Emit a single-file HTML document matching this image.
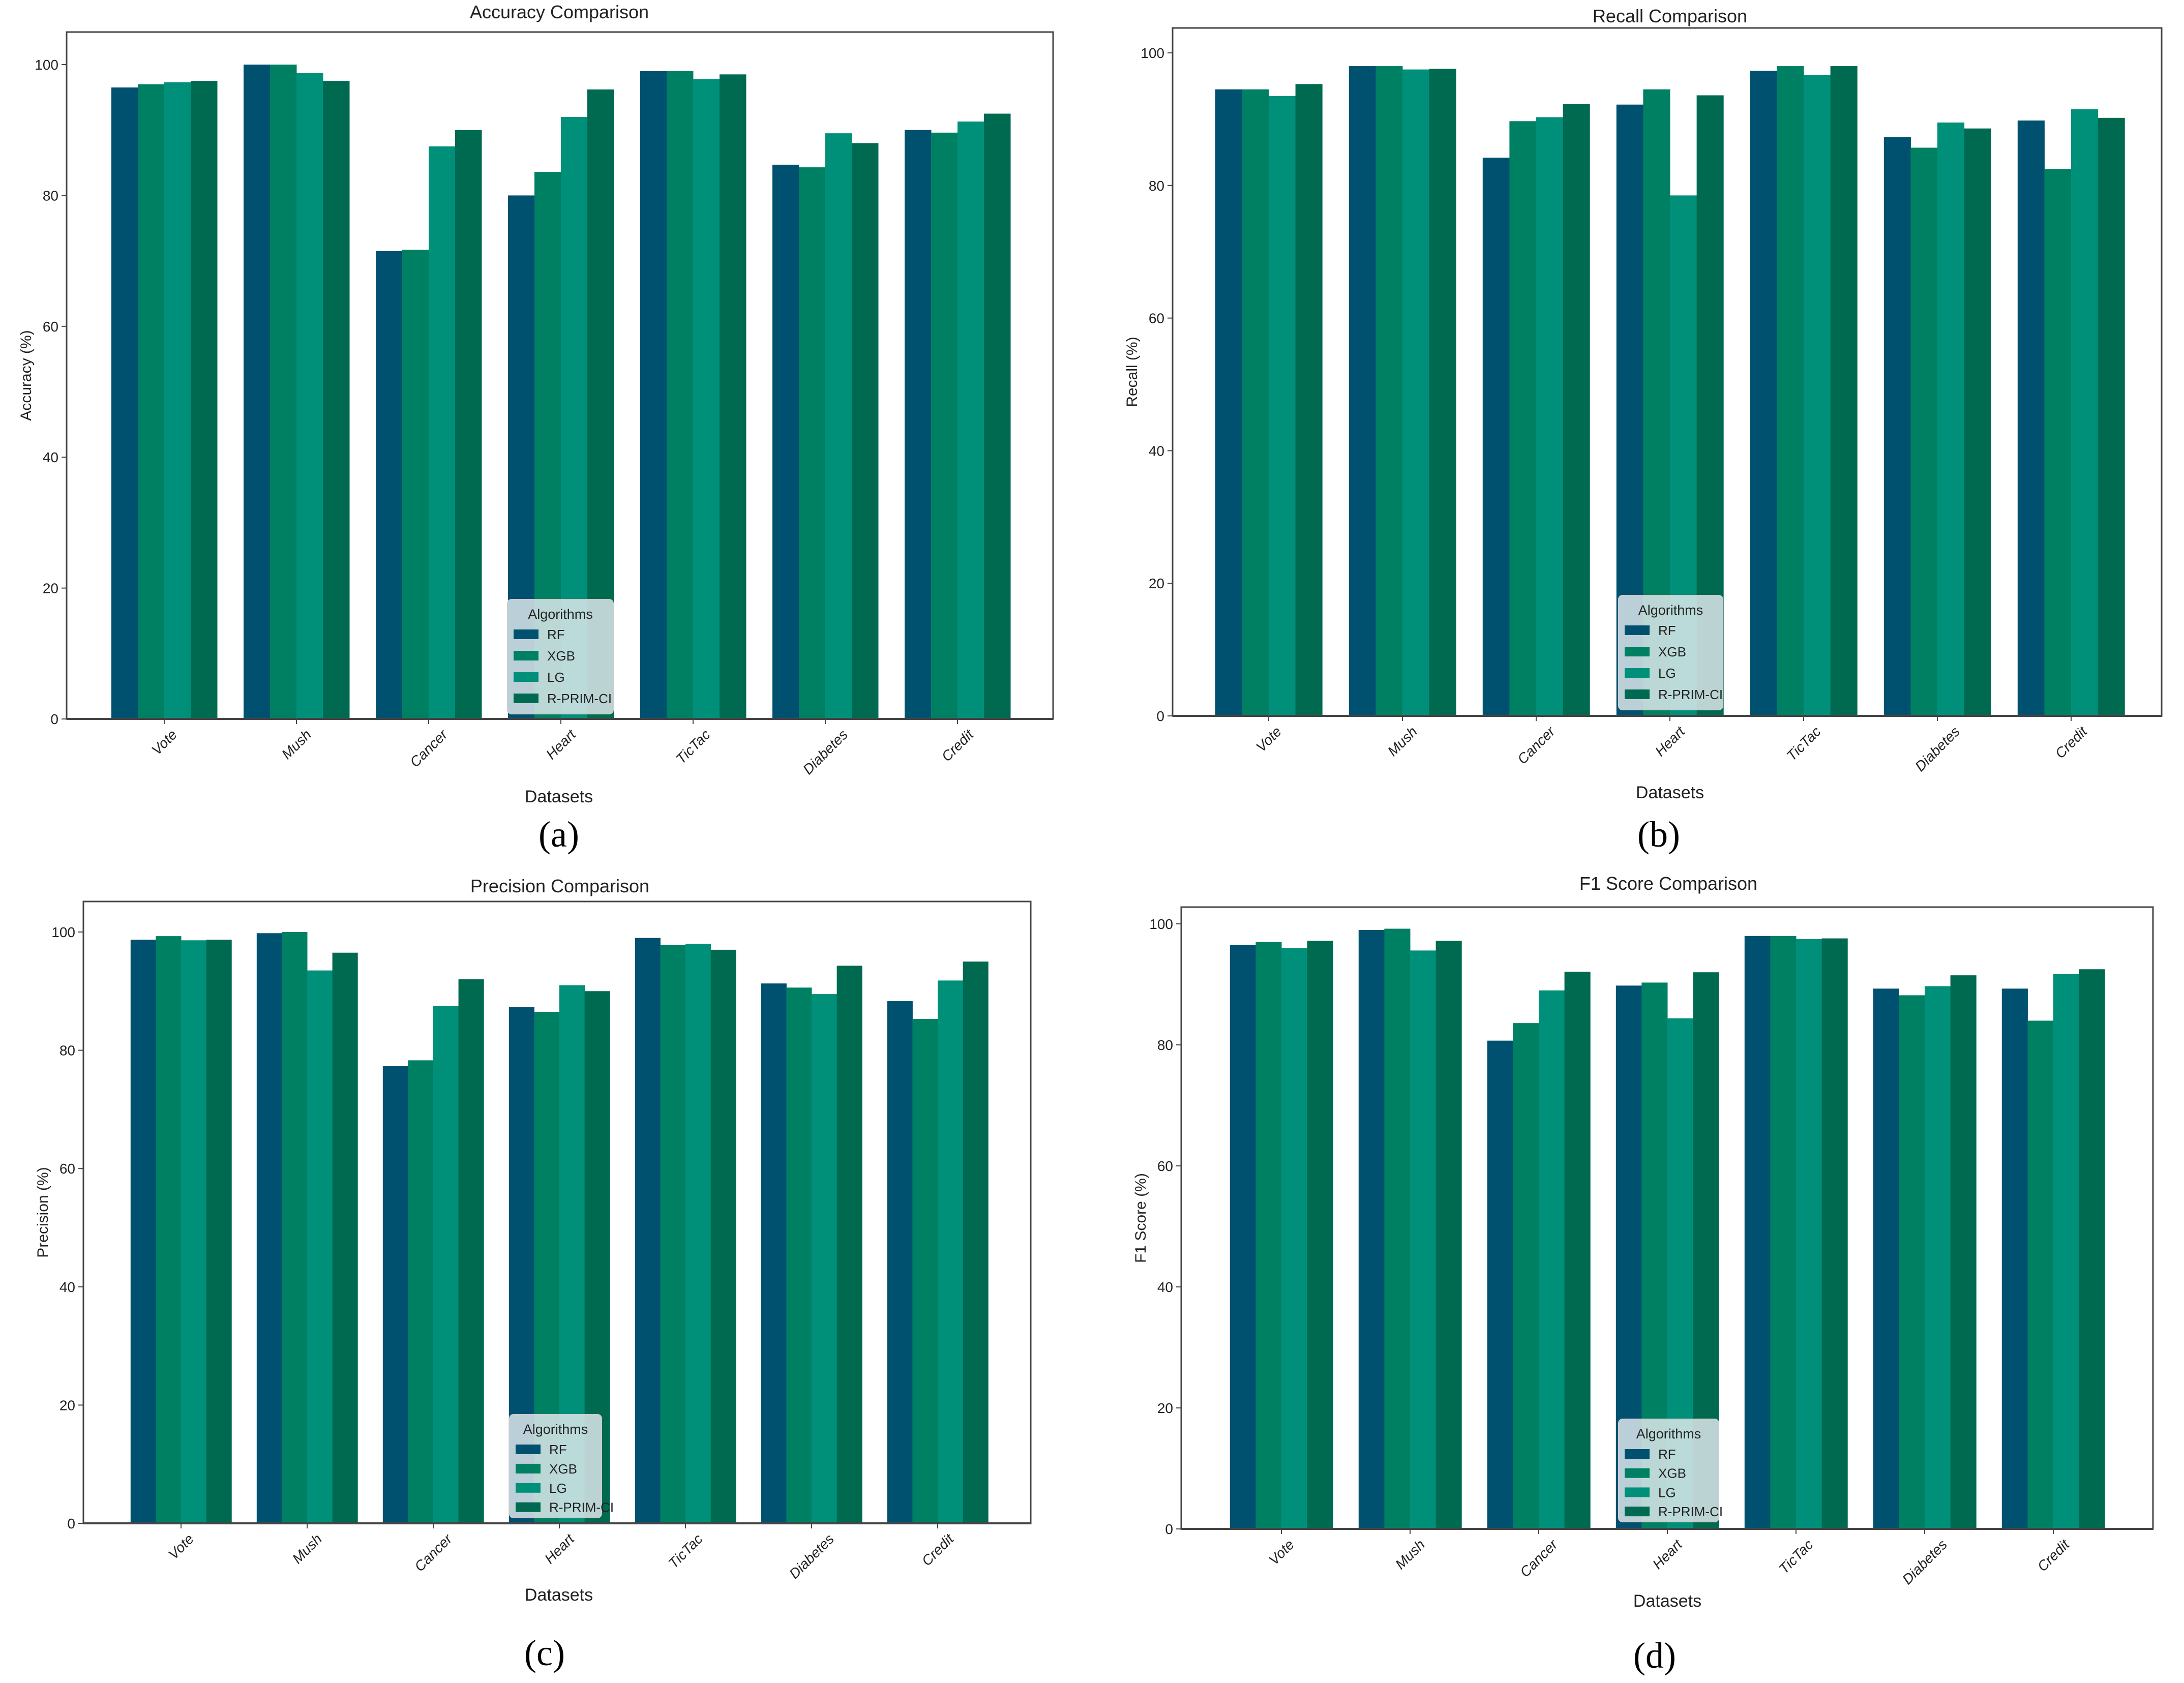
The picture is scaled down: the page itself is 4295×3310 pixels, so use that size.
<!DOCTYPE html>
<html><head><meta charset="utf-8"><style>
html,body{margin:0;padding:0;background:#fff;}
svg{display:block;}
text{font-family:"Liberation Sans Narrow","Liberation Sans",sans-serif;fill:#222;}
.lab{font-family:"Liberation Serif",serif;fill:#000;}
</style></head><body>
<svg id="fig" width="4295" height="3310" viewBox="0 0 4295 3310" xmlns="http://www.w3.org/2000/svg"></svg>
<script>
const categories = ["Vote","Mush","Cancer","Heart","TicTac","Diabetes","Credit"];
const seriesNames = ["RF","XGB","LG","R-PRIM-CI"];
const yTicks = [0,20,40,60,80,100];
const accRF  = [96.5,100,71.5,80,99,84.7,90];
const accXGB = [97,100,71.7,83.6,99,84.3,89.6];
const accLG  = [97.3,98.7,87.5,92,97.8,89.5,91.3];
const accR   = [97.5,97.5,90,96.2,98.5,88,92.5];
const recRF  = [94.5,98,84.2,92.2,97.3,87.3,89.8];
const recXGB = [94.5,98,89.7,94.5,98,85.7,82.5];
const recLG  = [93.5,97.5,90.3,78.5,96.7,89.5,91.5];
const recR   = [95.3,97.6,92.3,93.6,98,88.6,90.2];
const preRF  = [98.7,99.8,77.3,87.3,99,91.3,88.3];
const preXGB = [99.3,100,78.3,86.5,97.8,90.6,85.3];
const preLG  = [98.6,93.5,87.5,91,98,89.5,91.8];
const preR   = [98.7,96.5,92,90,97,94.3,95];
const f1RF   = [96.5,99,80.7,89.8,98,89.3,89.3];
const f1XGB  = [97,99.2,83.6,90.3,98,88.2,84];
const f1LG   = [96,95.6,89,84.4,97.5,89.7,91.7];
const f1R    = [97.2,97.2,92.1,92,97.6,91.5,92.5];

const colors = ["#00506f","#008062","#00907a","#006a50"];
const NS="http://www.w3.org/2000/svg";
const svg=document.getElementById('fig');
function mk(tag,attrs,parent,txt){const e=document.createElementNS(NS,tag);for(const k in attrs)e.setAttribute(k,attrs[k]);if(txt!==undefined)e.textContent=txt;(parent||svg).appendChild(e);return e;}

const panels=[
 {key:"accuracy",title:"Accuracy Comparison",ylab:"Accuracy (%)",data:[accRF,accXGB,accLG,accR],L:131,R:2071,T:63,B:1414,y100:127,c0:323,sp:260,leg:[998,1179,208,225],tx:1100,ty:36,dx:1099,dy:1578,lab:"(a)",lx:1099,ly:1665},
 {key:"recall",title:"Recall Comparison",ylab:"Recall (%)",data:[recRF,recXGB,recLG,recR],L:2306,R:4251,T:55,B:1408,y100:104,c0:2495,sp:263,leg:[3183,1171,205,225],tx:3284,ty:44,dx:3284,dy:1570,lab:"(b)",lx:3262,ly:1665},
 {key:"precision",title:"Precision Comparison",ylab:"Precision (%)",data:[preRF,preXGB,preLG,preR],L:164,R:2027,T:1773,B:2996,y100:1833,c0:356,sp:248,leg:[1002,2782,181,203],tx:1101,ty:1755,dx:1099,dy:3148,lab:"(c)",lx:1071,ly:3275},
 {key:"f1",title:"F1 Score Comparison",ylab:"F1 Score (%)",data:[f1RF,f1XGB,f1LG,f1R],L:2323,R:4234,T:1784,B:3007,y100:1817,c0:2520,sp:253,leg:[3183,2791,197,202],tx:3281,ty:1750,dx:3279,dy:3160,lab:"(d)",lx:3254,ly:3280}
];

panels.forEach(p=>{
 const g=mk('g',{});
 
 
 const yScale=v=>p.B+(p.y100-p.B)*v/100;
 const xCenter=i=>p.c0+i*p.sp;
 const bw=p.sp*0.8/4;
 const t=mk('text',{x:p.tx,y:p.ty,'text-anchor':'middle','font-size':36},g,p.title);
 
 
 mk('rect',{x:p.L,y:p.T,width:p.R-p.L,height:p.B-p.T,fill:'#fff',stroke:'#444','stroke-width':3},g);
 p.data.forEach((arr,s)=>{
  arr.forEach((v,i)=>{
   const x=xCenter(i)-2*bw+s*bw;
   const r=mk('rect',{x:x,y:yScale(v),width:bw+0.5,height:p.B-yScale(v),fill:colors[s]},g);
   
   
  });
 });
 mk('line',{x1:p.L,y1:p.B,x2:p.R,y2:p.B,stroke:'#444','stroke-width':4},g);
 yTicks.forEach(v=>{
  const y=yScale(v);
  mk('line',{x1:p.L-10,y1:y,x2:p.L,y2:y,stroke:'#444','stroke-width':2},g);
  const tl=mk('text',{x:p.L-16,y:y+10,'text-anchor':'end','font-size':28},g,String(v));
  
  
 });
 categories.forEach((c,i)=>{
  const x=xCenter(i);
  mk('line',{x1:x,y1:p.B,x2:x,y2:p.B+10,stroke:'#444','stroke-width':2},g);
  const tl=mk('text',{x:x,y:p.B,'text-anchor':'middle','dominant-baseline':'central','font-size':28,'font-style':'italic'},g,c);
  
  
  const w=tl.getComputedTextLength();
  const h=(w+28)*0.7071;
  const cy=p.B+16+h/2;
  tl.setAttribute('y',cy);
  tl.setAttribute('transform',`rotate(-45 ${x} ${cy})`);
 });
 const yl=mk('text',{x:0,y:0,'text-anchor':'middle','font-size':30,transform:`translate(${p.L-70} ${(p.T+p.B)/2}) rotate(-90)`,style:'font-family:"Liberation Sans",sans-serif'},g,p.ylab);
 
 
 const xl=mk('text',{x:p.dx,y:p.dy,'text-anchor':'middle','font-size':34},g,'Datasets');
 
 
 const pl=mk('text',{x:p.lx,y:p.ly,'text-anchor':'middle','font-size':72,class:'lab'},g,p.lab);
 
 
 const [lx,ly,lw,lh]=p.leg;
 const lg=mk('g',{},g);
 
 
 mk('rect',{x:lx,y:ly,width:lw,height:lh,rx:8,fill:'#e4ecf0','fill-opacity':0.82,stroke:'#ccc','stroke-width':2},lg);
 mk('text',{x:lx+lw/2,y:ly+38,'text-anchor':'middle','font-size':27},lg,'Algorithms');
 seriesNames.forEach((n,s)=>{
  const ey=ly+69+s*42*(lh/225);
  const e=mk('g',{},lg);
  
  
  mk('rect',{x:lx+12,y:ey-10,width:49,height:19,fill:colors[s]},e);
  mk('text',{x:lx+78,y:ey+9,'font-size':26},e,n);
 });
});
</script>
</body></html>
